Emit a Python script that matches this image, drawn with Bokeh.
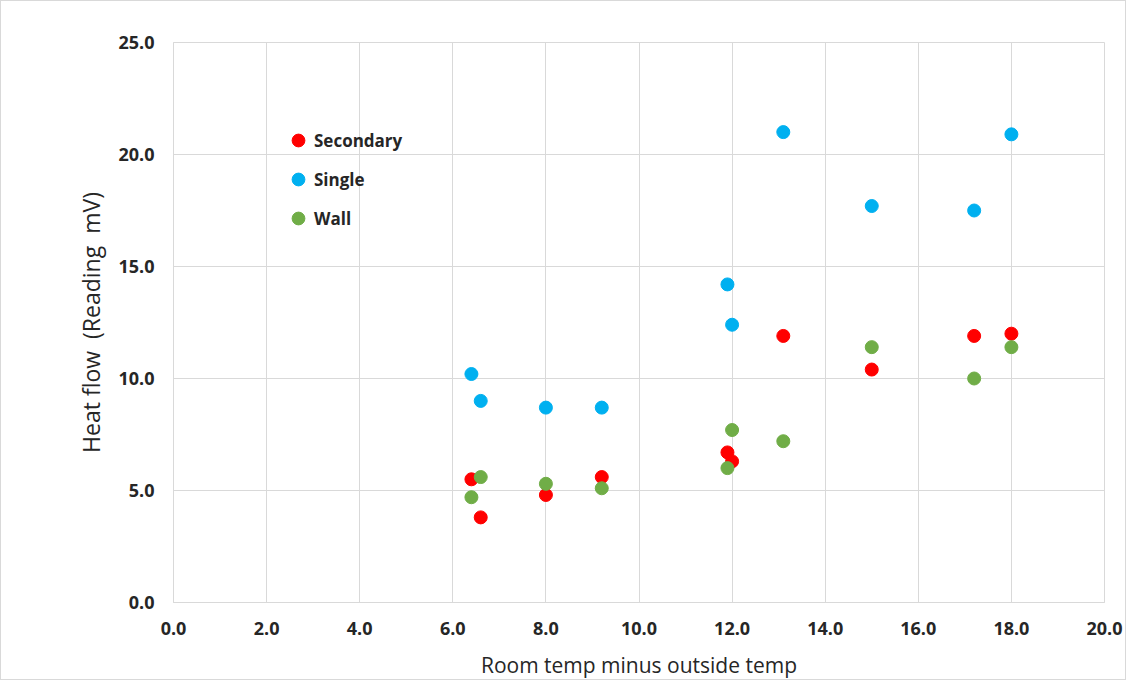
from bokeh.plotting import figure
from bokeh.models import Legend, LegendItem, NumeralTickFormatter, FixedTicker, Range1d
from bokeh.embed import file_html
from bokeh.resources import INLINE

x_vals = [6.4, 6.6, 8.0, 9.2, 11.9, 12.0, 13.1, 15.0, 17.2, 18.0]
secondary = [5.5, 3.8, 4.8, 5.6, 6.7, 6.3, 11.9, 10.4, 11.9, 12.0]
single = [10.2, 9.0, 8.7, 8.7, 14.2, 12.4, 21.0, 17.7, 17.5, 20.9]
wall = [4.7, 5.6, 5.3, 5.1, 6.0, 7.7, 7.2, 11.4, 10.0, 11.4]

series_names = ["Secondary", "Single", "Wall"]
series_colors = ["#FF0000", "#00B0F0", "#70AD47"]
x_ticks = [0, 2, 4, 6, 8, 10, 12, 14, 16, 18, 20]
y_ticks = [0, 5, 10, 15, 20, 25]

FONT = "Open Sans"
TXT = "#262626"
GRID = "#d9d9d9"

p = figure(width=1126, height=680, output_backend="svg", toolbar_location=None,
           x_range=Range1d(0, 20), y_range=Range1d(0, 25),
           min_border_left=172, min_border_right=23, min_border_top=41, min_border_bottom=79)
p.styles = {"border": "1px solid #d9d9d9"}
p.outline_line_color = GRID

renderers = []
for name, ys, col in zip(series_names, [secondary, single, wall], series_colors):
    r = p.scatter(x_vals, ys, size=13, fill_color=col, line_color=col)
    renderers.append((name, r))

legend = Legend(items=[LegendItem(label=n, renderers=[r]) for n, r in renderers],
                location=(109, 368), orientation="vertical",
                glyph_width=32, glyph_height=32, spacing=7, padding=0, margin=0,
                label_standoff=-6, label_text_font=FONT, label_text_font_size="17px",
                label_text_font_style="bold",
                label_text_color=TXT, background_fill_alpha=0, border_line_alpha=0,
                label_height=32)
p.add_layout(legend, "center")

for ax in (p.xaxis, p.yaxis):
    ax.major_tick_line_color = None
    ax.minor_tick_line_color = None
    ax.major_label_text_font = FONT
    ax.major_label_text_font_size = "18px"
    ax.major_label_text_font_style = "bold"
    ax.major_label_text_color = TXT
    ax.axis_label_text_font = FONT
    ax.axis_label_text_font_style = "normal"
    ax.axis_label_text_color = TXT
    ax.axis_line_color = GRID
    ax.formatter = NumeralTickFormatter(format="0.0")

p.xaxis.axis_label_text_font_size = "21px"
p.yaxis.axis_label_text_font_size = "23px"
p.xaxis.ticker = FixedTicker(ticks=x_ticks)
p.yaxis.ticker = FixedTicker(ticks=y_ticks)
p.xaxis.major_label_standoff = 13
p.yaxis.major_label_standoff = 13
p.xaxis.axis_label = "Room temp minus outside temp"
p.yaxis.axis_label = "Heat flow \u00a0(Reading \u00a0mV)"
p.xaxis.axis_label_standoff = 13
p.yaxis.axis_label_standoff = 8

p.xgrid.grid_line_color = GRID
p.ygrid.grid_line_color = GRID
p.xgrid.ticker = FixedTicker(ticks=x_ticks)
p.ygrid.ticker = FixedTicker(ticks=y_ticks)

open("out.html", "w").write(file_html(p, INLINE))
